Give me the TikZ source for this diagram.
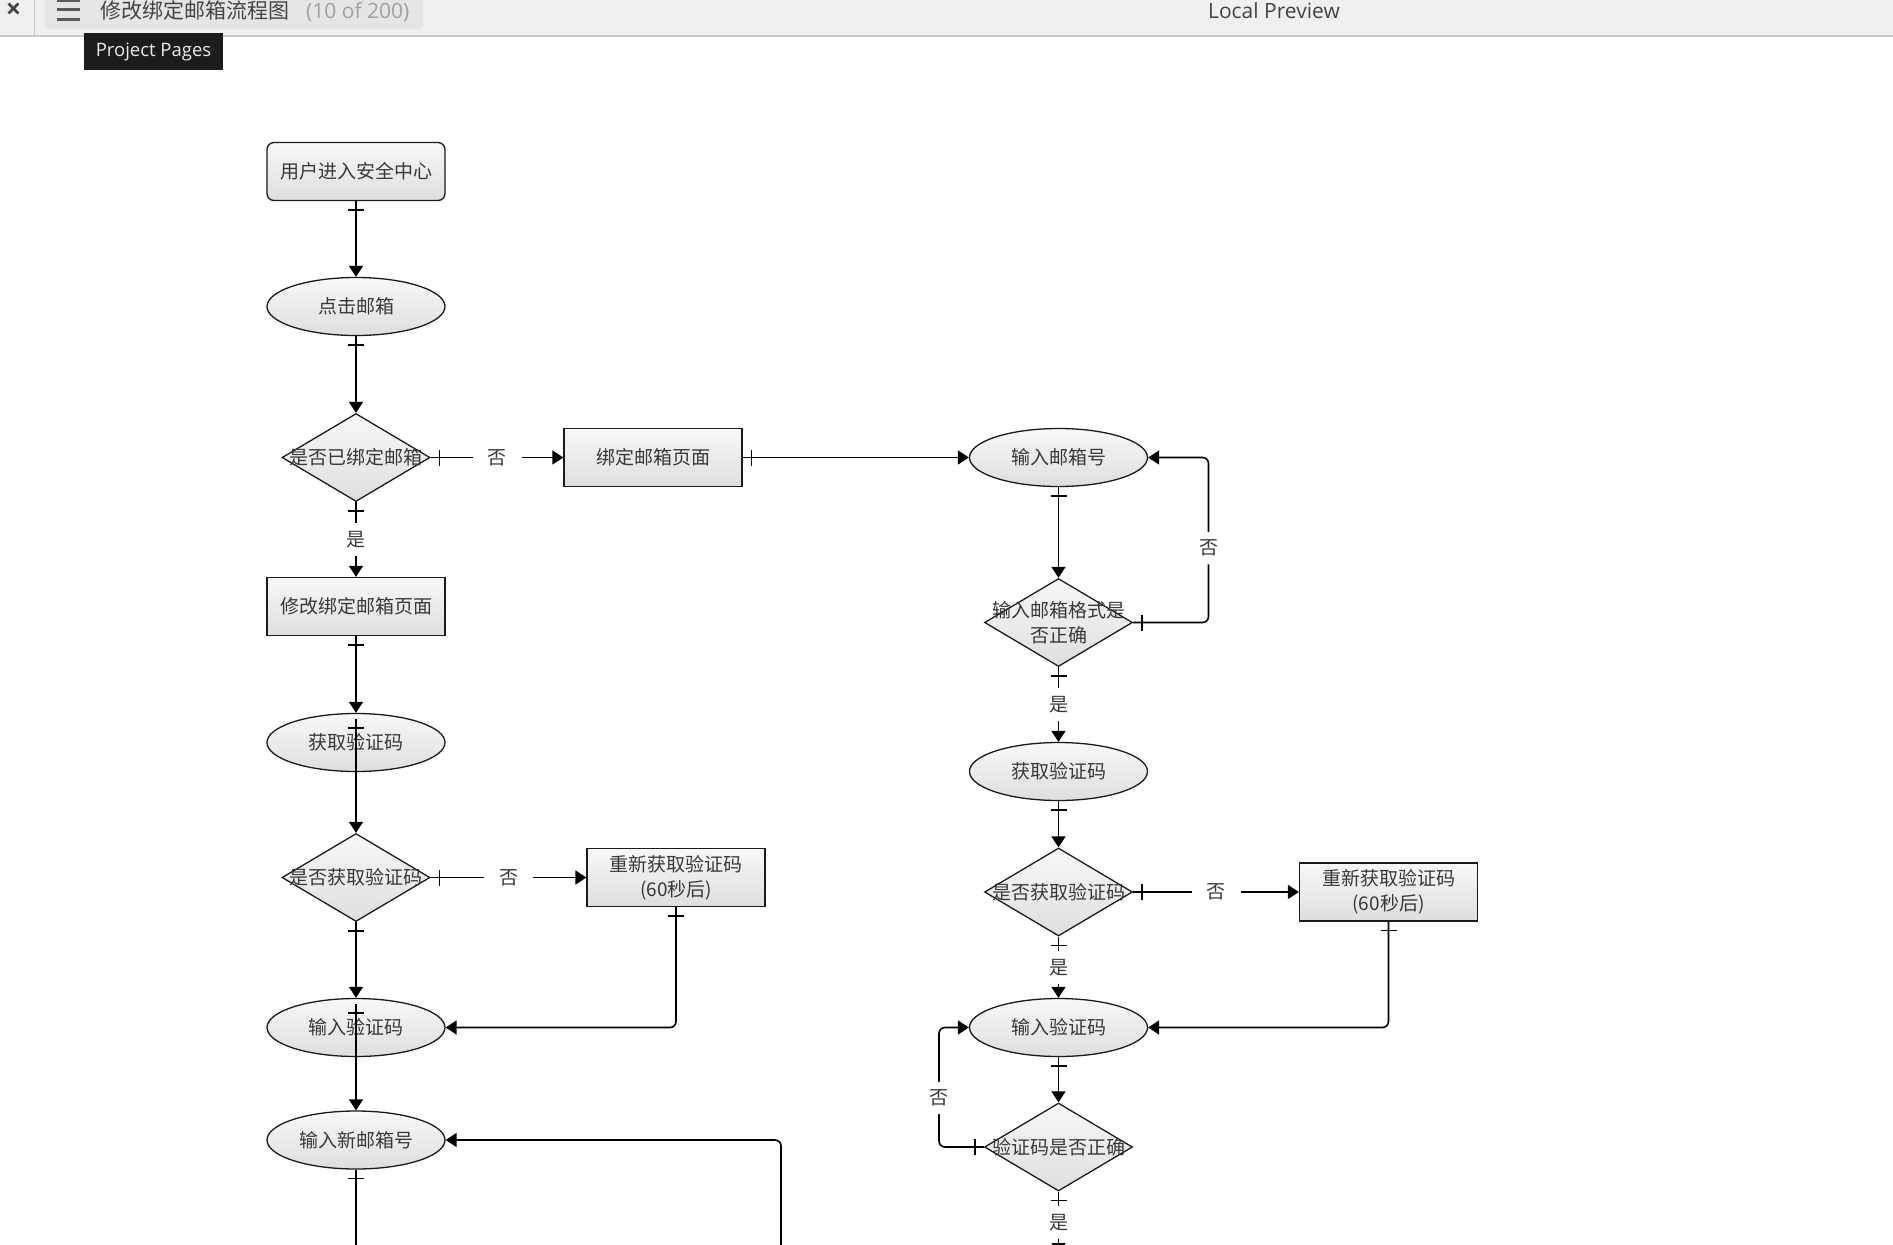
\documentclass[tikz,border=0pt]{standalone}
\usepackage{fontspec}
\setmainfont{Noto Sans CJK SC}
\newfontfamily\uifont{Open Sans}
\newfontfamily\cjkfont{Noto Sans CJK SC}
\usetikzlibrary{shapes.geometric,arrows.meta,decorations.markings,calc}
\definecolor{txtc}{HTML}{383838}
\definecolor{linec}{HTML}{1A1A1A}
\definecolor{topc}{HTML}{F8F8F8}
\definecolor{botc}{HTML}{DEDEDE}
\definecolor{barbg}{HTML}{F0F0F0}
\definecolor{tabbg}{HTML}{E5E5E5}
\definecolor{barline}{HTML}{CCCCCC}
\definecolor{tipbg}{HTML}{1C1C1C}
\definecolor{titlec}{HTML}{444444}
\definecolor{grayc}{HTML}{A0A0A0}
\definecolor{iconc}{HTML}{5A5A5A}
\newcommand\myNodeFont{\fontsize{19}{25}\selectfont}
\tikzset{
  base/.style={draw=linec, line width=1.3pt, top color=topc, bottom color=botc,
    text=txtc, font=\myNodeFont, inner sep=0pt, align=center},
  procbox/.style={base, rectangle, minimum width=178pt, minimum height=58pt},
  startbox/.style={procbox, rounded corners=7pt},
  oval/.style={base, ellipse, minimum width=178pt, minimum height=58pt},
  dia/.style={base, diamond, minimum width=148pt, minimum height=88pt},
  diatext/.style={text=txtc, font=\myNodeFont, align=center, inner sep=0pt},
  starttick/.style={postaction={decorate, decoration={markings,
      mark=at position 9pt with {\draw[arrows=-, line width=1.6pt, black] (0pt,-8pt) -- (0pt,8pt);}}}},
  plainconn/.style={draw=black, line width=1.6pt},
  conn/.style={plainconn, -{Triangle[length=11pt,width=14pt]}, starttick},
  connnt/.style={plainconn, -{Triangle[length=11pt,width=14pt]}},
  lbl/.style={fill=white, text=txtc, font=\myNodeFont, inner xsep=15pt, inner ysep=8pt},
}
\begin{document}
\begin{tikzpicture}[x=1pt,y=-1pt]
\fill[white] (0,0) rectangle (1893,1245);
\useasboundingbox (0,0) rectangle (1893,1245);
\clip (0,0) rectangle (1893,1245);

% ---- top bar ----
\fill[barbg] (0,0) rectangle (1893,36);
\draw[barline, line width=1.5pt] (0,36) -- (1893,36);
\draw[barline, line width=1pt] (34.5,0) -- (34.5,36);
\fill[tabbg, rounded corners=4pt] (45,-6) rectangle (423,29);
\node[font=\uifont\bfseries\fontsize{27}{27}\selectfont, text=titlec, inner sep=0pt] (closex) at (13.5,10.5) {×};
\draw[iconc, line width=3pt] (57,0.5) -- (80,0.5) (57,9.5) -- (80,9.5) (57,19) -- (80,19);
\node[anchor=base west, font=\cjkfont\fontsize{21}{21}\selectfont, text=titlec, inner sep=0pt] (title) at (100,18.5) {修改绑定邮箱流程图};
\node[anchor=base west, font=\uifont\fontsize{21}{21}\selectfont, text=grayc, inner sep=0pt] (count) at (306,18.5) {(10 of 200)};
\node[anchor=base, font=\uifont\fontsize{21}{21}\selectfont, text=titlec, inner sep=0pt] (preview) at (1274,18) {Local Preview};
\node[fill=tipbg, minimum width=139pt, minimum height=37pt, inner sep=0pt,
      font=\uifont\fontsize{18.5}{18.5}\selectfont, text=white!92!black] (tip) at (153.5,51.5) {Project Pages};

% ---- left column ----
\node[startbox] (start) at (356,171.5) {用户进入安全中心};
\node[oval] (click) at (356,306.5) {点击邮箱};
\node[dia] (d1) at (356,457.5) {};
\node[diatext] (d1t) at (d1) {是否已绑定邮箱};
\node[procbox] (bindpage) at (653,457.5) {绑定邮箱页面};
\node[procbox] (modify) at (356,606.5) {修改绑定邮箱页面};
\node[oval] (getcode1) at (356,742.5) {获取验证码};
\node[dia] (d2) at (356,877.5) {};
\node[diatext] (d2t) at (d2) {是否获取验证码};
\node[procbox] (resend1) at (676,877.5) {重新获取验证码\\(60秒后)};
\node[oval] (input1) at (356,1027.5) {输入验证码};
\node[oval] (newmail) at (356,1140) {输入新邮箱号};

% ---- right column ----
\node[oval] (inmail) at (1058.5,457.5) {输入邮箱号};
\node[dia] (d3) at (1058.5,622.5) {};
\node[diatext] (d3t) at (d3) {输入邮箱格式是\\否正确};
\node[oval] (getcode2) at (1058.5,771.5) {获取验证码};
\node[dia] (d4) at (1058.5,892) {};
\node[diatext] (d4t) at (d4) {是否获取验证码};
\node[procbox] (resend2) at (1388.5,892) {重新获取验证码\\(60秒后)};
\node[oval] (input2) at (1058.5,1027.5) {输入验证码};
\node[dia] (d5) at (1058.5,1147) {};
\node[diatext] (d5t) at (d5) {验证码是否正确};

% ---- helper coordinates ----
\coordinate (lp3) at (1208.5,0);
\coordinate (lp5) at (939,0);
\coordinate (lb) at (356,1265);
\coordinate (rb) at (781,1265);
\coordinate (db) at (1058.5,1254);

% ---- connectors ----
\draw[conn] (start) -- (click);
\draw[conn] (click) -- (d1);
\draw[conn] (d1) -- node[lbl]{否} (bindpage);
\draw[conn] (d1) -- node[lbl]{是} (modify);
\draw[conn] (bindpage) -- (inmail);
\draw[conn] (modify) -- (getcode1);
\draw[conn] ($(getcode1.north)+(0,6)$) -- (d2.north);
\draw[conn] (d2) -- node[lbl]{否} (resend1);
\draw[conn] (d2) -- (input1);
\draw[conn, rounded corners=6pt] (resend1.south) |- (input1.east);
\draw[conn] ($(input1.north)+(0,6)$) -- (newmail.north);
\draw[plainconn, starttick] (newmail) -- (lb);
\draw[connnt, rounded corners=6pt] (rb) |- (newmail.east);

\draw[conn] (inmail) -- (d3);
\draw[conn, rounded corners=6pt] (d3.east) -- (d3.east -| lp3) -- node[lbl, pos=0.45]{否} (lp3 |- inmail.east) -- (inmail.east);
\draw[conn] (d3) -- node[lbl]{是} (getcode2);
\draw[conn] (getcode2) -- (d4);
\draw[conn] (d4) -- node[lbl]{否} (resend2);
\draw[conn] (d4) -- node[lbl]{是} (input2);
\draw[conn, rounded corners=6pt] (resend2.south) |- (input2.east);
\draw[conn] (input2) -- (d5);
\draw[conn, rounded corners=6pt] (d5.west) -- (d5.west -| lp5) -- node[lbl, pos=0.41]{否} (lp5 |- input2.west) -- (input2.west);
\draw[conn] (d5) -- node[lbl]{是} (db);
\end{tikzpicture}
\end{document}
